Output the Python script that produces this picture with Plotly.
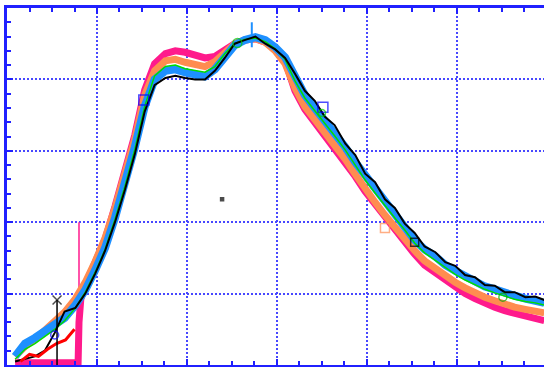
import plotly.graph_objects as go

# shared x grid (data units, 1 unit = one major grid cell)
x = [0.09, 0.20, 0.31, 0.42, 0.53, 0.64, 0.76, 0.87, 0.98, 1.09, 1.20, 1.31, 1.42, 1.53,
     1.64, 1.76, 1.87, 1.98, 2.09, 2.20, 2.31, 2.42, 2.53, 2.64, 2.76, 2.87, 2.98, 3.09,
     3.20, 3.31, 3.42, 3.53, 3.64, 3.76, 3.87, 3.98, 4.09, 4.20, 4.31, 4.42, 4.53, 4.64,
     4.76, 4.87, 4.98, 5.09, 5.20, 5.31, 5.42, 5.53, 5.64, 5.76, 5.87, 5.97]

magenta_x = [0.09, 0.40, 0.79, 0.80, 0.82, 0.87, 0.98, 1.09, 1.20, 1.31, 1.42, 1.53,
             1.64, 1.76, 1.87, 1.98, 2.09, 2.20, 2.31, 2.42, 2.53, 2.64, 2.76, 2.87, 2.98, 3.09,
             3.20, 3.31, 3.42, 3.53, 3.64, 3.76, 3.87, 3.98, 4.09, 4.20, 4.31, 4.42, 4.53, 4.64,
             4.76, 4.87, 4.98, 5.09, 5.20, 5.31, 5.42, 5.53, 5.64, 5.76, 5.87, 5.97]
magenta = [0.03, 0.03, 0.03, 0.60, 0.92, 1.12, 1.42, 1.76, 2.22, 2.72, 3.22, 3.85,
           4.22, 4.36, 4.40, 4.38, 4.33, 4.30, 4.32, 4.40, 4.50, 4.55, 4.57, 4.52, 4.42, 4.26,
           3.84, 3.58, 3.40, 3.23, 3.05, 2.85, 2.64, 2.43, 2.25, 2.06, 1.89, 1.72, 1.55, 1.40,
           1.29, 1.18, 1.08, 1.00, 0.93, 0.86, 0.81, 0.76, 0.72, 0.69, 0.66, 0.62]

orange = [0.12, 0.26, 0.36, 0.48, 0.60, 0.74, 0.93, 1.16, 1.45, 1.78, 2.20, 2.68, 3.17, 3.78,
          4.12, 4.26, 4.28, 4.24, 4.20, 4.18, 4.25, 4.38, 4.50, 4.55, 4.57, 4.52, 4.40, 4.22,
          3.88, 3.62, 3.44, 3.27, 3.08, 2.88, 2.67, 2.46, 2.28, 2.10, 1.93, 1.77, 1.60, 1.46,
          1.35, 1.25, 1.16, 1.08, 1.01, 0.95, 0.90, 0.85, 0.81, 0.78, 0.76, 0.73]

blue = [0.12, 0.30, 0.38, 0.47, 0.55, 0.66, 0.84, 1.05, 1.33, 1.64, 2.06, 2.52, 3.05, 3.62,
        4.00, 4.12, 4.14, 4.10, 4.07, 4.04, 4.14, 4.32, 4.48, 4.55, 4.59, 4.55, 4.45, 4.31,
        4.02, 3.78, 3.60, 3.43, 3.25, 3.05, 2.84, 2.65, 2.47, 2.27, 2.10, 1.93, 1.75, 1.62,
        1.52, 1.40, 1.32, 1.24, 1.17, 1.10, 1.06, 1.00, 0.97, 0.93, 0.91, 0.87]

black = [0.05, 0.08, 0.12, 0.20, 0.45, 0.75, 0.80, 1.00, 1.28, 1.60, 2.00, 2.45, 2.95, 3.55,
         3.92, 4.02, 4.05, 4.02, 4.00, 4.00, 4.12, 4.30, 4.50, 4.55, 4.60, 4.50, 4.42, 4.30,
         4.08, 3.84, 3.70, 3.48, 3.36, 3.10, 2.94, 2.68, 2.56, 2.32, 2.20, 1.98, 1.85, 1.66,
         1.58, 1.44, 1.39, 1.26, 1.23, 1.12, 1.11, 1.02, 1.02, 0.95, 0.96, 0.91]

green = [0.08, 0.22, 0.30, 0.40, 0.50, 0.62, 0.80, 1.02, 1.30, 1.62, 2.04, 2.50, 3.02, 3.62,
         4.05, 4.18, 4.20, 4.15, 4.12, 4.10, 4.18, 4.36, 4.50, 4.56, 4.58, 4.53, 4.43, 4.28,
         3.98, 3.74, 3.56, 3.39, 3.21, 3.01, 2.80, 2.59, 2.41, 2.23, 2.06, 1.89, 1.71, 1.57,
         1.46, 1.36, 1.27, 1.19, 1.12, 1.06, 1.01, 0.96, 0.92, 0.89, 0.87, 0.84]

red_x = [0.15, 0.25, 0.35, 0.45, 0.55, 0.65, 0.75]
red_y = [0.05, 0.15, 0.12, 0.22, 0.30, 0.35, 0.50]

spike_x = [0.80, 0.80]
spike_y = [0.03, 2.00]

blackline_x = [0.556, 0.556]
blackline_y = [0.00, 0.91]

peak_spike_x = [2.72, 2.72]
peak_spike_y = [4.45, 4.80]

# markers
mk_x = [0.556, 1.52, 0.53, 2.56, 3.51, 3.50, 4.20, 4.53, 5.51, 2.39]
mk_y = [0.91, 3.71, 0.42, 4.51, 3.61, 3.53, 1.92, 1.72, 0.95, 2.32]
mk_sym = ["x-thin-open", "square-open", "circle-open", "circle-open", "square-open",
          "circle-open", "square-open", "square-open", "circle-open", "square"]
mk_col = ["#000000", "#0000ff", "#0000ff", "#00cc00", "#0000ff",
          "#00cc00", "#ff8c50", "#000000", "#00aa00", "#000000"]
mk_size = [9, 10, 8, 9, 10, 7, 9, 8, 8, 3]

BLUE_AX = "#2020ff"
GRID = "#4848ff"

fig = go.Figure()
fig.add_trace(go.Scatter(x=magenta_x, y=magenta, mode="lines", line=dict(color="#ff1a8c", width=7)))
fig.add_trace(go.Scatter(x=spike_x, y=spike_y, mode="lines", line=dict(color="#ff1a8c", width=1.5)))
fig.add_trace(go.Scatter(x=x, y=orange, mode="lines", line=dict(color="#ff8c50", width=7)))
fig.add_trace(go.Scatter(x=x, y=blue, mode="lines", line=dict(color="#1e90ff", width=8)))
fig.add_trace(go.Scatter(x=peak_spike_x, y=peak_spike_y, mode="lines", line=dict(color="#1e90ff", width=2)))
fig.add_trace(go.Scatter(x=x, y=green, mode="lines", line=dict(color="#00dd00", width=1.5)))
fig.add_trace(go.Scatter(x=x, y=black, mode="lines", line=dict(color="#000000", width=2)))
fig.add_trace(go.Scatter(x=red_x, y=red_y, mode="lines", line=dict(color="#ff0000", width=3)))
fig.add_trace(go.Scatter(x=blackline_x, y=blackline_y, mode="lines", line=dict(color="#000000", width=1.5)))
fig.add_trace(go.Scatter(x=mk_x, y=mk_y, mode="markers",
                         marker=dict(symbol=mk_sym, color=mk_col, size=mk_size,
                                     line=dict(color=mk_col, width=1.5))))

axis_common = dict(
    showline=True, linecolor=BLUE_AX, linewidth=3,
    showgrid=True, gridcolor=GRID, griddash="2px,2px", gridwidth=2,
    ticks="inside", ticklen=6, tickwidth=2, tickcolor=BLUE_AX,
    showticklabels=False, zeroline=False, dtick=1, tick0=0,
)

fig.update_layout(
    width=544, height=367,
    margin=dict(l=7, r=0, t=8, b=2),
    paper_bgcolor="white", plot_bgcolor="white",
    showlegend=False,
    xaxis=dict(range=[0, 5.967], mirror="ticks",
               minor=dict(dtick=0.25, ticks="inside", ticklen=4, tickwidth=1.5,
                          tickcolor=BLUE_AX, showgrid=False),
               **axis_common),
    yaxis=dict(range=[0, 5.0],
               minor=dict(dtick=0.2, ticks="inside", ticklen=4, tickwidth=1.5,
                          tickcolor=BLUE_AX, showgrid=False),
               **axis_common),
)

fig.write_html("out.html", config={"displayModeBar": False},
               post_script="document.body.style.margin='0px';")
